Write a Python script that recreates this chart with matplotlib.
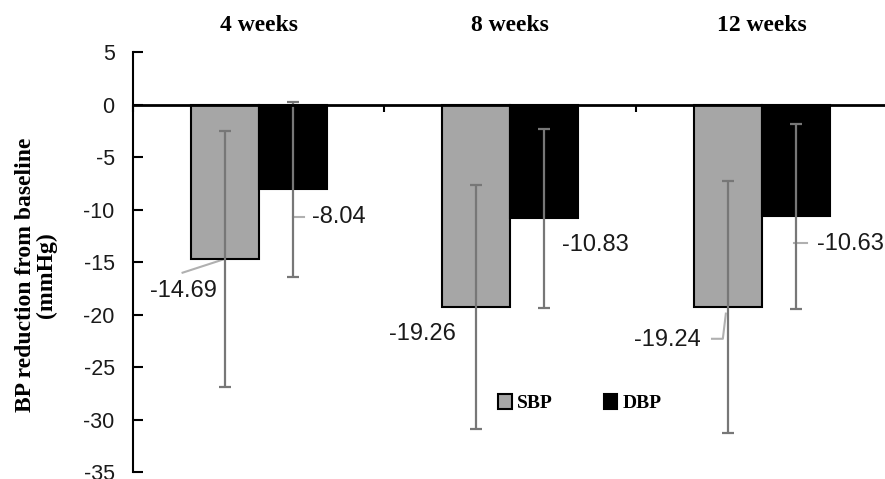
import numpy as np
import matplotlib.pyplot as plt

plt.rcParams['axes.unicode_minus'] = False

# datos
semanas = ["4 weeks", "8 weeks", "12 weeks"]
sbp = [-14.69, -19.26, -19.24]
dbp = [-8.04, -10.83, -10.63]
sbp_sd = [12.2, 11.6, 12.0]
dbp_sd = [8.35, 8.5, 8.85]
yticks = [5, 0, -5, -10, -15, -20, -25, -30, -35]

fig = plt.figure(figsize=(8.85, 4.79), dpi=100)
ax = fig.add_axes([0.150, 0.0146, 0.853, 0.876])

x = np.arange(len(semanas)) + 0.5
w = 0.27
ekw = dict(ecolor="#777777", elinewidth=1.6, capsize=4, capthick=1.6)
ax.bar(x - w/2, sbp, w, color="#a6a6a6", edgecolor="black", linewidth=1.5,
       yerr=sbp_sd, error_kw=ekw, label="SBP", zorder=2)
ax.bar(x + w/2, dbp, w, color="black", edgecolor="black", linewidth=1.5,
       yerr=dbp_sd, error_kw=ekw, label="DBP", zorder=2)

ax.set_xlim(0, 3)
ax.set_ylim(-35, 5)
ax.set_yticks(yticks)
ax.set_xticks([0, 1, 2, 3])
ax.set_xticklabels([])
ax.tick_params(axis="y", direction="in", length=7, width=1.5, labelsize=15.5, pad=13)
ax.tick_params(axis="x", direction="out", length=5, width=1.5)
for lab in ax.get_yticklabels():
    lab.set_family("Liberation Sans")
    lab.set_color("#1a1a1a")
ax.spines["top"].set_visible(False)
ax.spines["right"].set_visible(False)
ax.spines["bottom"].set_position(("data", 0))
ax.spines["bottom"].set_linewidth(2)
ax.spines["bottom"].set_zorder(3)
ax.spines["left"].set_linewidth(1.5)

# titulos de cada grupo
for xi, s in zip(x, semanas):
    ax.text(xi, 7.6, s, ha="center", va="center", fontsize=17, fontweight="bold",
            family="Liberation Serif", clip_on=False)

# etiquetas de valores
lab_kw = dict(fontsize=17, family="Liberation Sans", va="center", color="#1a1a1a")
lc = "#b0b0b0"
ax.text(0.20, -17.7, "%.2f" % sbp[0], ha="center", **lab_kw)
ax.plot([0.198, 0.357], [-16.0, -14.76], color=lc, lw=1.5, zorder=1)
ax.text(0.714, -10.7, "%.2f" % dbp[0], ha="left", **lab_kw)
ax.plot([0.635, 0.679], [-10.67, -10.67], color=lc, lw=1.5)
ax.text(1.706, -13.4, "%.2f" % dbp[1], ha="left", **lab_kw)
ax.text(1.020, -21.8, "%.2f" % sbp[1], ha="left", **lab_kw)
ax.text(1.992, -22.4, "%.2f" % sbp[2], ha="left", **lab_kw)
ax.plot([2.302, 2.345, 2.357], [-22.3, -22.3, -19.9], color=lc, lw=1.5, zorder=3)
ax.text(2.718, -13.3, "%.2f" % dbp[2], ha="left", clip_on=False, **lab_kw)
ax.plot([2.627, 2.679], [-13.2, -13.2], color=lc, lw=1.5)

fig.legend(loc="center", bbox_to_anchor=(580/885, 1 - 403/479), ncol=2, frameon=False,
           handlelength=0.7, handleheight=0.8, handletextpad=0.3, columnspacing=2.6,
           prop=dict(family="Liberation Serif", weight="bold", size=14))

fig.text(36/885, 1 - 275/479, "BP reduction from baseline\n(mmHg)", rotation=90,
         ha="center", va="center", multialignment="center", fontsize=17,
         fontweight="bold", family="Liberation Serif", linespacing=1.0)

fig.savefig("out.png", dpi=100)
